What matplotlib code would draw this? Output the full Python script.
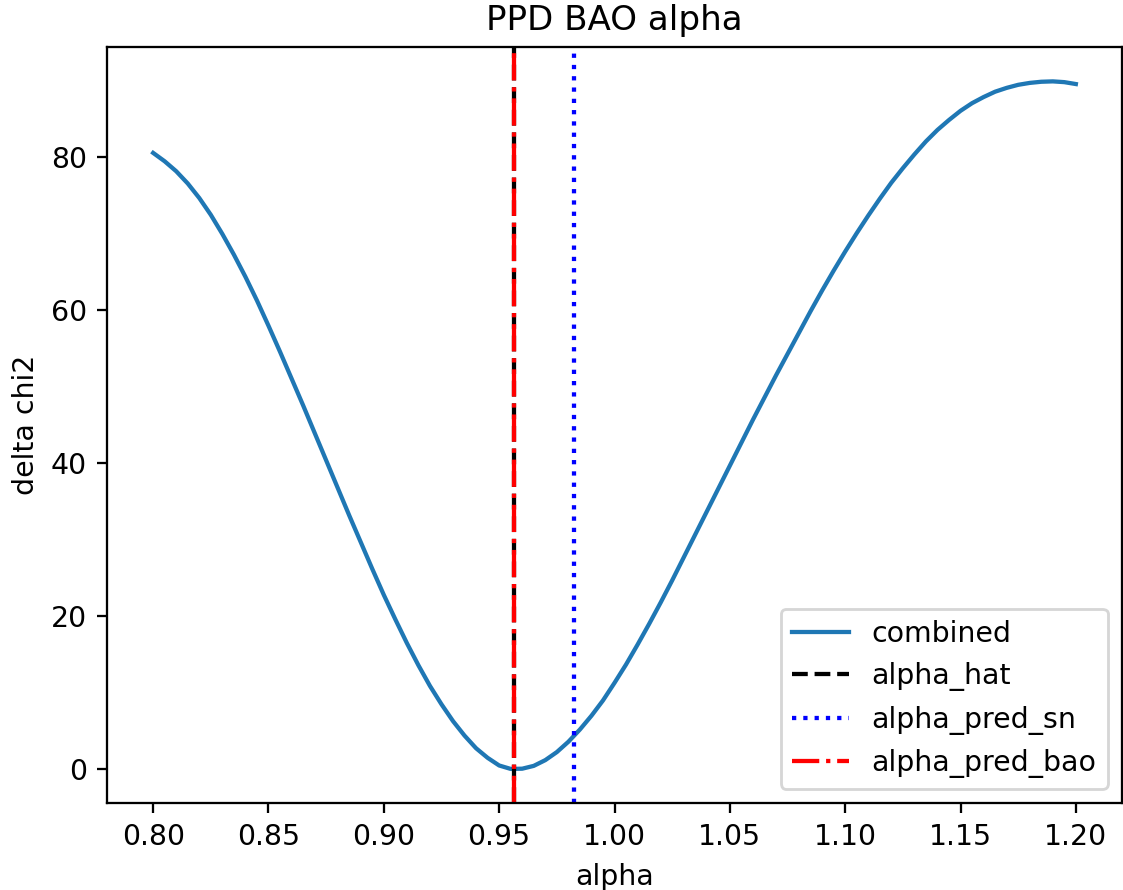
import matplotlib
matplotlib.use("Agg")
import matplotlib.pyplot as plt

# Data
alpha = [0.800, 0.805, 0.810, 0.815, 0.820, 0.825, 0.830, 0.835, 0.840, 0.845,
         0.850, 0.855, 0.860, 0.865, 0.870, 0.875, 0.880, 0.885, 0.890, 0.895,
         0.900, 0.905, 0.910, 0.915, 0.920, 0.925, 0.930, 0.935, 0.940, 0.945,
         0.950, 0.955, 0.960, 0.965, 0.970, 0.975, 0.980, 0.985, 0.990, 0.995,
         1.000, 1.005, 1.010, 1.015, 1.020, 1.025, 1.030, 1.035, 1.040, 1.045,
         1.050, 1.055, 1.060, 1.065, 1.070, 1.075, 1.080, 1.085, 1.090, 1.095,
         1.100, 1.105, 1.110, 1.115, 1.120, 1.125, 1.130, 1.135, 1.140, 1.145,
         1.150, 1.155, 1.160, 1.165, 1.170, 1.175, 1.180, 1.185, 1.190, 1.195,
         1.200]
delta_chi2 = [80.6, 79.5, 78.2, 76.6, 74.7, 72.5, 70.0, 67.3, 64.4, 61.3,
              58.0, 54.6, 51.1, 47.6, 44.0, 40.4, 36.8, 33.2, 29.7, 26.2,
              22.8, 19.6, 16.5, 13.6, 10.9, 8.5, 6.3, 4.4, 2.75, 1.5,
              0.5, 0.05, 0.08, 0.45, 1.2, 2.25, 3.6, 5.2, 7.0, 9.0,
              11.3, 13.7, 16.3, 19.0, 21.8, 24.7, 27.7, 30.7, 33.7, 36.7,
              39.7, 42.7, 45.7, 48.6, 51.5, 54.3, 57.1, 59.9, 62.6, 65.2,
              67.7, 70.1, 72.4, 74.6, 76.7, 78.6, 80.4, 82.1, 83.6, 84.9,
              86.1, 87.1, 87.9, 88.6, 89.1, 89.5, 89.75, 89.9, 89.95, 89.85,
              89.6]
alpha_hat = 0.9564
alpha_pred_sn = 0.9823
alpha_pred_bao = 0.9564

dpi = 204.5
fig = plt.figure(figsize=(1123 / dpi, 890 / dpi), dpi=dpi)
ax = fig.add_axes([107 / 1123, (890 - 803.3) / 890, 1015 / 1123, (803.3 - 47) / 890])

ax.plot(alpha, delta_chi2, label="combined")
ax.axvline(alpha_hat, color="k", linestyle="--", label="alpha_hat")
ax.axvline(alpha_pred_sn, color="b", linestyle=":", label="alpha_pred_sn")
ax.axvline(alpha_pred_bao, color="r", linestyle="-.", label="alpha_pred_bao")

ax.set_xlabel("alpha")
ax.set_ylabel("delta chi2")
ax.set_title("PPD BAO alpha")
ax.legend(loc="lower right")

fig.savefig("out.png", dpi=dpi)
